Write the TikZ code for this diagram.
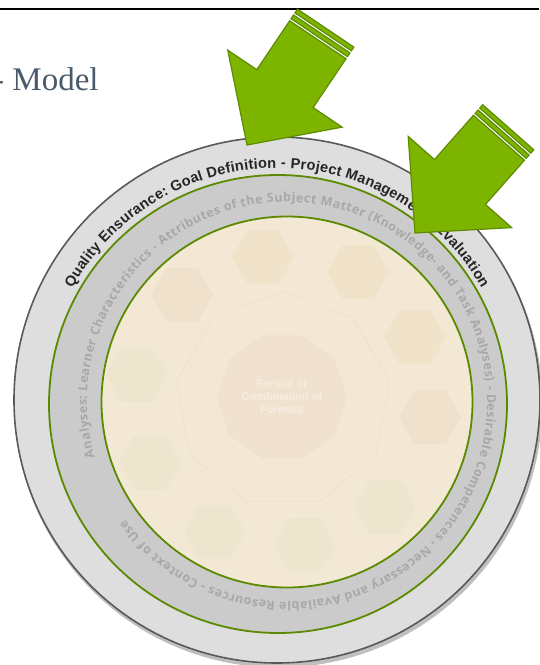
\documentclass[tikz,border=0pt]{standalone}
\usepackage{fontspec}
\setmainfont{Liberation Serif}
\newfontfamily\ringfont{Liberation Sans}
\newfontfamily\midfont{Open Sans}
\usetikzlibrary{decorations.text,shapes.geometric}
\definecolor{arrowfill}{HTML}{7DB400}
\definecolor{arrowedge}{HTML}{5E8C00}
\definecolor{ringgreen}{HTML}{5B8A00}
\definecolor{outergray}{HTML}{DEDEDE}
\definecolor{midgray}{HTML}{CBCBCB}
\definecolor{innerfill}{HTML}{F2E8D3}
\definecolor{titlecol}{HTML}{4B5A6B}
\definecolor{midtext}{HTML}{A8A8A8}
\definecolor{outertext}{HTML}{262626}
\definecolor{hexyel}{HTML}{F0E0C3}
\definecolor{hexpea}{HTML}{F0DCC7}
\definecolor{hexgrn}{HTML}{ECE4CB}
\definecolor{centfill}{HTML}{EFDECB}
\definecolor{polyline}{HTML}{EDE2CB}
\newcommand\greenarrow{%
  \filldraw[arrowpart] (0,0) -- (68,69) -- (68,34) -- (127,34) -- (127,-34) -- (68,-34) -- (68,-69) -- cycle;
  \filldraw[arrowpart] (129.5,34) -- (134,34) -- (134,-34) -- (129.5,-34) -- cycle;
  \filldraw[arrowpart] (136.5,34) -- (141,34) -- (141,-34) -- (136.5,-34) -- cycle;
}
\begin{document}
\begin{tikzpicture}[x=1pt,y=-1pt,
  arrowpart/.style={fill=arrowfill,draw=arrowedge,line width=1.2pt,line join=miter},
  hexa/.style={regular polygon,regular polygon sides=6,minimum size=62pt,inner sep=0pt,draw=none,fill opacity=0.55}]
\useasboundingbox (0,0) rectangle (539,665);
% top rule and title
\coordinate (tl) at (0,8.5);
\coordinate (tr) at (539,8.5);
\draw[line width=2pt] (tl) -- (tr);
\node[anchor=base west,text=titlecol,font=\fontsize{33}{33}\selectfont,inner sep=0pt] (title) at (-7,90) {- Model};
% outer ring
\fill[black,opacity=.25] (278.5,403.5) circle[radius=264pt];
\draw[draw=black!65,line width=1.6pt,fill=outergray] (277,400) circle[radius=263pt];
\draw[ringgreen,line width=1.8pt,fill=midgray] (278,404) circle[radius=229pt];
\draw[ringgreen,line width=1.8pt,fill=innerfill] (287,402) circle[radius=185.5pt];
% faint inner content
\node[regular polygon,regular polygon sides=9,minimum size=216pt,draw=polyline,line width=0.7pt] (ring) at (283,400) {};
\node[regular polygon,regular polygon sides=10,minimum size=112pt,fill=centfill,fill opacity=0.6,draw=none,
      text=white!55!centfill,text opacity=0.8,font=\ringfont\bfseries\fontsize{11}{13}\selectfont,align=center] (center) at (282,397) {Format or\\Combination of\\Formats};
\node[hexa,fill=hexyel] (h1) at (263,257) {};
\node[hexa,fill=hexyel] (h2) at (358,272) {};
\node[hexa,fill=hexpea] (h3) at (182,295) {};
\node[hexa,fill=hexyel] (h4) at (415,337) {};
\node[hexa,fill=hexgrn] (h5) at (137,375) {};
\node[hexa,fill=hexpea] (h6) at (430,417) {};
\node[hexa,fill=hexgrn] (h7) at (150,463) {};
\node[hexa,fill=hexgrn] (h8) at (385,507) {};
\node[hexa,fill=hexgrn] (h9) at (215,532) {};
\node[hexa,fill=hexgrn] (h10) at (305,545) {};
% ring texts
\path[decorate,decoration={text along path,
  text={|\ringfont\bfseries\fontsize{14.6}{14.6}\selectfont\color{outertext}|Quality Ensurance: Goal Definition - Project Management - Evaluation},
  text align=fit to path}]
  ([shift={(151:234pt)}]277,402) arc[start angle=151,end angle=29,radius=234pt];
\path[decorate,decoration={text along path,
  text={|\midfont\bfseries\fontsize{12.5}{13}\selectfont\color{midtext}|Analyses: Learner Characteristics - Attributes of the Subject Matter (Knowledge- and Task Analyses) - Desirable Competences - Necessary and Available Resources - Context of Use},
  text align=fit to path}]
  ([shift={(196:200pt)}]287,402) arc[start angle=196,end angle=-144,radius=200pt];
% arrows
\begin{scope}[shift={(247,145)},x={(0.558pt,0.829pt)},y={(0.829pt,-0.558pt)}]
  \greenarrow
\end{scope}
\begin{scope}[shift={(415,233)},x={(0.661pt,0.750pt)},y={(0.750pt,-0.661pt)}]
  \greenarrow
\end{scope}
\end{tikzpicture}
\end{document}
